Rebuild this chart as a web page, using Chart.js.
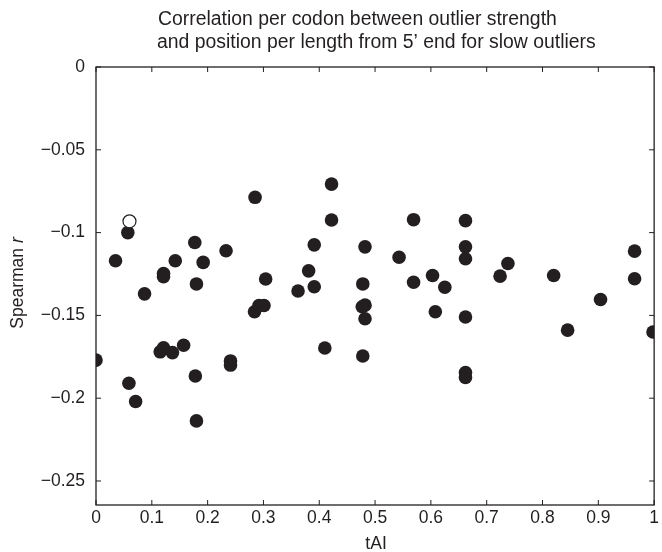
<!DOCTYPE html>
<html>
<head>
<meta charset="utf-8">
<script src="https://cdn.jsdelivr.net/npm/chart.js@4/dist/chart.umd.min.js"></script>
<style>
  html, body { margin: 0; padding: 0; background: #fff; }
  #wrap { width: 662px; height: 552px; }
</style>
</head>
<body>
<div id="wrap"><canvas id="scatter" width="662" height="552"></canvas></div>
<script>
// tAI per codon and Spearman r (slow outliers)
const tai = [0.035, 0.057, 0.285, 0.177, 0.233, 0.142, 0.192, 0.121, 0.121, 0.180, 0.304,
  0.087, 0.284, 0.292, 0.301, 0.000, 0.115, 0.121, 0.137, 0.157, 0.241, 0.241, 0.059,
  0.071, 0.178, 0.180, 0.422, 0.422, 0.569, 0.662, 0.391, 0.482, 0.662, 0.543, 0.662,
  0.381, 0.362, 0.391, 0.478, 0.569, 0.603, 0.625, 0.482, 0.477, 0.482, 0.608, 0.662,
  0.410, 0.478, 0.662, 0.662, 0.738, 0.724, 0.820, 0.965, 0.965, 0.904, 0.845, 0.998];
const spearman = [-0.117, -0.100, -0.0787, -0.106, -0.111, -0.117, -0.118, -0.1247, -0.1267, -0.131, -0.128,
  -0.137, -0.1478, -0.144, -0.144, -0.177, -0.172, -0.1695, -0.1725, -0.168, -0.1775, -0.180, -0.191,
  -0.202, -0.1866, -0.2137, -0.0707, -0.0924, -0.0922, -0.0928, -0.1074, -0.1086, -0.1086, -0.1149, -0.1158,
  -0.1231, -0.1353, -0.1327, -0.131, -0.130, -0.1259, -0.133, -0.1438, -0.1448, -0.152, -0.1478, -0.151,
  -0.1697, -0.1745, -0.1845, -0.1875, -0.1187, -0.1263, -0.1259, -0.1112, -0.1279, -0.1404, -0.1589, -0.160];
// the single open marker
const openTai = [0.060];
const openR = [-0.0932];

const xTicks = [0, 0.1, 0.2, 0.3, 0.4, 0.5, 0.6, 0.7, 0.8, 0.9, 1];
const yTicks = [0, -0.05, -0.1, -0.15, -0.2, -0.25];
const titleLines = ['Correlation per codon between outlier strength',
  'and position per length from 5\u2019 end for slow outliers'];

const FONT = '"Liberation Sans", Arial, Helvetica, sans-serif';
const FS = 17.5;
const TITLE_FS = 19.4;
const INK = '#231f20';

const filled = tai.map((x, i) => ({ x: x, y: spearman[i] }));
const hollow = openTai.map((x, i) => ({ x: x, y: openR[i] }));

// frame, inward ticks, title and the y label with italic r
const decor = {
  id: 'decor',
  afterDraw(chart) {
    const c = chart.ctx;
    const a = chart.chartArea;
    const xs = chart.scales.x, ys = chart.scales.y;
    c.save();
    c.strokeStyle = INK;
    c.lineWidth = 1.3;
    c.strokeRect(a.left, a.top, a.right - a.left, a.bottom - a.top);
    c.lineWidth = 1;
    xTicks.forEach(v => {
      const p = xs.getPixelForValue(v);
      c.beginPath();
      c.moveTo(p, a.bottom); c.lineTo(p, a.bottom - 5);
      c.moveTo(p, a.top); c.lineTo(p, a.top + 5);
      c.stroke();
    });
    yTicks.forEach(v => {
      const p = ys.getPixelForValue(v);
      c.beginPath();
      c.moveTo(a.left, p); c.lineTo(a.left + 5, p);
      c.moveTo(a.right, p); c.lineTo(a.right - 5, p);
      c.stroke();
    });

    c.fillStyle = INK;
    c.textBaseline = 'middle';
    // title lines are left aligned
    c.font = TITLE_FS + 'px ' + FONT;
    c.textAlign = 'left';
    c.fillText(titleLines[0], 158, 20);
    c.fillText(titleLines[1], 157, 43);

    c.font = FS + 'px ' + FONT;
    c.textAlign = 'center';
    c.fillText('tAI', (a.left + a.right) / 2 + 1, 544);

    // y title: "Spearman " + italic "r"
    c.translate(18, (a.top + a.bottom) / 2 - 3);
    c.rotate(-Math.PI / 2);
    c.font = FS + 'px ' + FONT;
    const w1 = c.measureText('Spearman ').width;
    c.font = 'italic ' + FS + 'px ' + FONT;
    const w2 = c.measureText('r').width;
    const start = -(w1 + w2) / 2;
    c.textAlign = 'left';
    c.font = FS + 'px ' + FONT;
    c.fillText('Spearman ', start, 0);
    c.font = 'italic ' + FS + 'px ' + FONT;
    c.fillText('r', start + w1, 0);
    c.restore();
  }
};

const ctx = document.getElementById('scatter').getContext('2d');
new Chart(ctx, {
  type: 'scatter',
  data: {
    datasets: [
      {
        label: 'open',
        data: hollow,
        pointRadius: 6.5,
        pointBackgroundColor: '#ffffff',
        pointBorderColor: INK,
        pointBorderWidth: 1.2,
        order: 0
      },
      {
        label: 'codons',
        data: filled,
        pointRadius: 6.8,
        pointBackgroundColor: INK,
        pointBorderColor: INK,
        pointBorderWidth: 0,
        order: 1
      }
    ]
  },
  options: {
    responsive: false,
    animation: false,
    layout: { padding: { top: 67, right: 2, left: 0, bottom: 0 } },
    plugins: {
      legend: { display: false },
      tooltip: { enabled: false },
      title: { display: false }
    },
    scales: {
      x: {
        type: 'linear',
        min: 0,
        max: 1,
        grid: { display: false, drawTicks: false },
        border: { display: false },
        afterBuildTicks: s => { s.ticks = xTicks.map(v => ({ value: v })); },
        afterFit: s => { s.height = 47; },
        ticks: {
          color: INK,
          font: { family: FONT, size: FS },
          padding: 3,
          maxRotation: 0,
          callback: v => String(v)
        }
      },
      y: {
        type: 'linear',
        min: -0.2645,
        max: 0,
        grid: { display: false, drawTicks: false },
        border: { display: false },
        afterBuildTicks: s => { s.ticks = yTicks.map(v => ({ value: v })); },
        afterFit: s => { s.width = 96; },
        ticks: {
          color: INK,
          font: { family: FONT, size: FS },
          padding: 11,
          callback: v => String(v).replace('-', '\u2212')
        }
      }
    }
  },
  plugins: [decor]
});
</script>
</body>
</html>
